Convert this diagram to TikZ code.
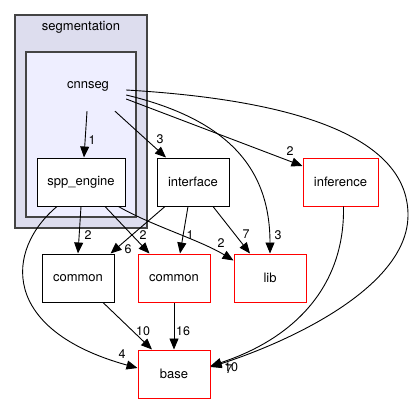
\documentclass[tikz,border=0pt]{standalone}
\usepackage{fontspec}
\setmainfont{TeX Gyre Heros}
\usetikzlibrary{arrows.meta}
\definecolor{clusterout}{HTML}{DDDDEE}
\definecolor{clusterin}{HTML}{EEEEFF}
\definecolor{clusterline}{HTML}{444444}
\begin{document}
\begin{tikzpicture}[x=1pt,y=-1pt,
    dir/.style={draw=black,line width=1pt,fill=white,minimum width=72pt,
      minimum height=48pt,inner sep=0pt,font=\fontsize{13}{15}\selectfont},
    extdir/.style={dir,draw=red},
    dep/.style={-{Triangle[length=11pt,width=9pt]},line width=0.9pt},
    num/.style={inner sep=0pt,font=\fontsize{12.5}{14}\selectfont}]
  \useasboundingbox (0,0) rectangle (415,404);
  % clusters
  \filldraw[fill=clusterout,draw=clusterline,line width=1.4pt] (15,15) rectangle (147,228);
  \filldraw[fill=clusterin,draw=clusterline,line width=1.4pt] (26,52) rectangle (136,217);
  \node[num,font=\fontsize{13}{15}\selectfont] (segmentation) at (81,27) {segmentation};
  \node[font=\fontsize{13}{15}\selectfont,minimum width=76pt,minimum height=50pt] (cnnseg) at (88,86) {cnnseg};
  % directories
  \node[dir,minimum width=88pt] (spp) at (81,182) {spp\_engine};
  \node[dir] (iface) at (193,182) {interface};
  \node[extdir,minimum width=75pt] (inf) at (340.5,182) {inference};
  \node[dir] (common) at (78,278) {common};
  \node[extdir] (commonr) at (174,278) {common};
  \node[extdir] (lib) at (270,278) {lib};
  \node[extdir] (base) at (174,374) {base};
  % dependencies
  \draw[dep] ([xshift=-1pt]cnnseg.south)--([xshift=3pt]spp.north);
  \draw[dep] ([xshift=27pt]cnnseg.south)--([xshift=-27pt]iface.north);
  \draw[dep] ([yshift=-9pt]cnnseg.east) .. controls (230,120) and (270,170) .. (lib.north);
  \draw[dep] ([yshift=-13pt]cnnseg.east)--([yshift=16pt]inf.west);
  \draw[dep] ([yshift=-4pt]cnnseg.east) .. controls (330,102) and (408,150) .. (408,215)
    .. controls (408,290) and (280,345) .. ([yshift=7pt]base.east);
  \draw[dep] ([xshift=3pt]inf.south) .. controls (345,290) and (290,340) .. ([yshift=8pt]base.east);
  \draw[dep] (spp.south)--(common.north);
  \draw[dep] ([xshift=24pt]spp.south)--([xshift=12pt]commonr.north west);
  \draw[dep] ([xshift=-7pt]spp.south east) .. controls (150,225) and (200,240) .. ([yshift=-7pt]lib.north west);
  \draw[dep] ([xshift=-24pt]spp.south) .. controls (5,250) and (0,330) .. ([yshift=6pt]base.west);
  \draw[dep] ([xshift=-28pt]iface.south)--([xshift=-4pt]common.north east);
  \draw[dep] ([xshift=-5pt]iface.south)--([xshift=6pt]commonr.north);
  \draw[dep] ([xshift=20pt]iface.south)--([xshift=-20pt]lib.north);
  \draw[dep] ([xshift=25pt]common.south)--([xshift=-22pt]base.north);
  \draw[dep] (commonr.south)--(base.north);
  % labels
  \node[num] (l1) at (92,140) {1};
  \node[num] (l2) at (160,139) {3};
  \node[num] (l3) at (278,235) {3};
  \node[num] (l4) at (290,151) {2};
  \node[num] (l5) at (231,367) {10};
  \node[num] (l6) at (229,369) {7};
  \node[num] (l7) at (88,235) {2};
  \node[num] (l8) at (143,235) {2};
  \node[num] (l9) at (221,243) {2};
  \node[num] (l10) at (122,354) {4};
  \node[num] (l11) at (128,249) {6};
  \node[num] (l12) at (190,235) {1};
  \node[num] (l13) at (246,234) {7};
  \node[num] (l14) at (143,331) {10};
  \node[num] (l15) at (183,331) {16};
\end{tikzpicture}
\end{document}
